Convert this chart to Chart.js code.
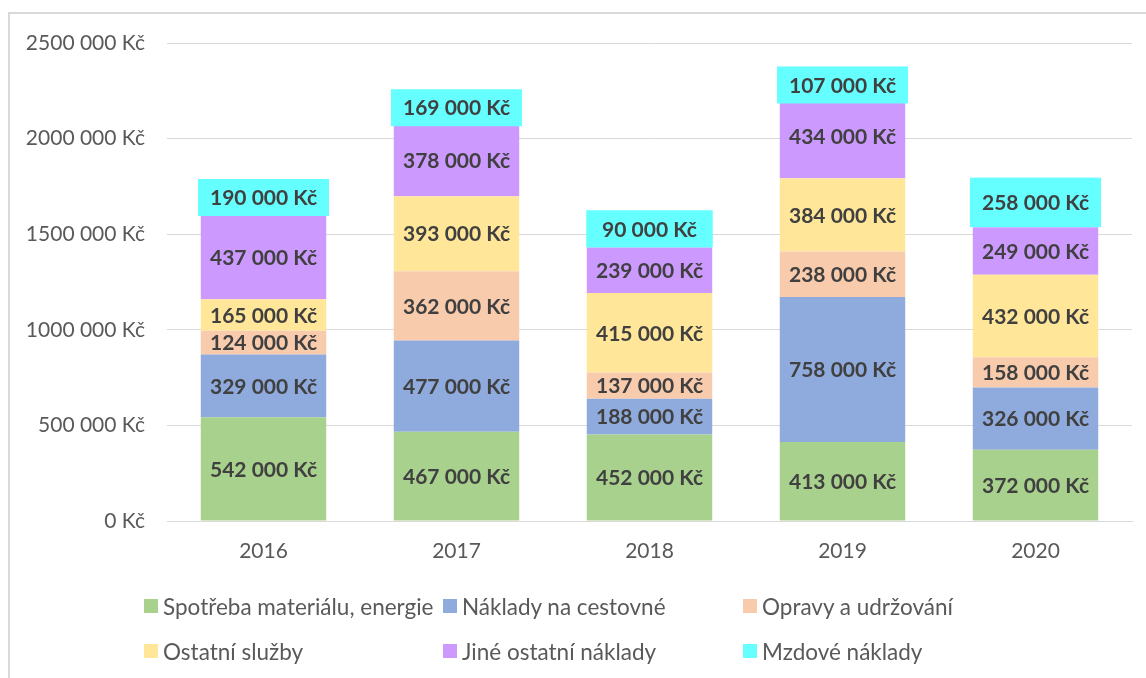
<!DOCTYPE html>
<html>
<head>
<meta charset="utf-8">
<script src="https://cdn.jsdelivr.net/npm/chart.js@4"></script>
<style>
  html, body { margin: 0; padding: 0; background: #fff; }
  body { width: 1146px; height: 678px; position: relative; overflow: hidden; font-family: Lato, sans-serif; }
  #frame { position: absolute; left: 8px; top: 12px; width: 1200px; height: 800px; border-left: 2px solid #D9D9D9; border-top: 2px solid #D9D9D9; }
  #chart { position: absolute; left: 0; top: 0; }
  #legend { position: absolute; left: 144px; top: 593px; display: grid; grid-template-columns: 299px 300px 300px; row-gap: 19px; }
  .item { display: flex; align-items: center; height: 26px; font-size: 22.5px; color: #595959; white-space: nowrap; }
  .sw { width: 14px; height: 14px; margin-right: 5px; flex: none; }
</style>
</head>
<body>
<div id="frame"></div>
<canvas id="chart" width="1146" height="678"></canvas>
<div id="legend"></div>
<script>
// ─── DATA ─────────────────────────────────────
const years = ['2016', '2017', '2018', '2019', '2020'];
const spotreba = [542000, 467000, 452000, 413000, 372000];
const cestovne = [329000, 477000, 188000, 758000, 326000];
const opravy   = [124000, 362000, 137000, 238000, 158000];
const sluzby   = [165000, 393000, 415000, 384000, 432000];
const jine     = [437000, 378000, 239000, 434000, 249000];
const mzdove   = [190000, 169000, 90000, 107000, 258000];
const yTickLabels = ['0 Kč', '500 000 Kč', '1000 000 Kč', '1500 000 Kč', '2000 000 Kč', '2500 000 Kč'];

const seriesNames = ['Spotřeba materiálu, energie', 'Náklady na cestovné', 'Opravy a udržování', 'Ostatní služby', 'Jiné ostatní náklady', 'Mzdové náklady'];
const seriesData = [spotreba, cestovne, opravy, sluzby, jine, mzdove];
const seriesColors = ['#A9D18E', '#8FAADC', '#F8CBAD', '#FFE699', '#CC99FF', '#66FFFF'];

const fmt = v => Math.round(v / 1000) + ' 000 Kč';

// ─── DATA LABELS ──────────────────────────────
const barLabels = {
    id: 'barLabels',
    afterDatasetsDraw(chart) {
        const ctx = chart.ctx;
        ctx.save();
        ctx.font = 'bold 21px Lato';
        ctx.textAlign = 'center';
        ctx.textBaseline = 'middle';
        const last = seriesData.length - 1;
        chart.data.datasets.forEach((ds, di) => {
            chart.getDatasetMeta(di).data.forEach((bar, i) => {
                const top = Math.min(bar.y, bar.base);
                const bottom = Math.max(bar.y, bar.base);
                let cy = (top + bottom) / 2;
                const text = fmt(ds.data[i]);
                if (di === last) {
                    // top series gets a filled box behind its label,
                    // pushed up if it would run into the label below
                    const h = Math.max(bottom - top, 37);
                    const below = chart.getDatasetMeta(di - 1).data[i];
                    const belowCy = (below.y + below.base) / 2;
                    let boxBottom = Math.min(cy + h / 2, belowCy - 23);
                    cy = boxBottom - h / 2;
                    const w = Math.max(bar.width + 1, ctx.measureText(text).width + 24);
                    ctx.fillStyle = ds.backgroundColor;
                    ctx.fillRect(bar.x - w / 2, cy - h / 2, w, h);
                }
                ctx.fillStyle = '#404040';
                ctx.fillText(text, bar.x, cy + 1);
            });
        });
        ctx.restore();
    }
};

// ─── CHART ────────────────────────────────────
new Chart(document.getElementById('chart'), {
    type: 'bar',
    data: {
        labels: years,
        datasets: seriesData.map((d, i) => ({
            label: seriesNames[i],
            data: d,
            backgroundColor: seriesColors[i],
            borderWidth: 0,
            categoryPercentage: 0.65,
            barPercentage: 1,
        })),
    },
    options: {
        responsive: false,
        animation: false,
        layout: { padding: { left: 0, right: 14, top: 43, bottom: 100 } },
        plugins: { legend: { display: false }, tooltip: { enabled: false } },
        scales: {
            x: {
                stacked: true,
                grid: { display: false, drawTicks: false },
                border: { color: '#D9D9D9', width: 1 },
                ticks: { color: '#595959', font: { family: 'Lato', size: 21 }, padding: 18 },
                afterFit: s => { s.height = 57; },
            },
            y: {
                stacked: true,
                min: 0, max: 2500000,
                grid: { color: '#D9D9D9', lineWidth: 1, drawTicks: false },
                border: { display: false },
                ticks: {
                    stepSize: 500000,
                    color: '#595959',
                    font: { family: 'Lato', size: 21 },
                    padding: 22,
                    callback: (v, i) => yTickLabels[i],
                },
                afterFit: s => { s.width = 167; },
            },
        },
    },
    plugins: [barLabels],
});

// ─── LEGEND ───────────────────────────────────
document.getElementById('legend').innerHTML = seriesNames.map((n, i) =>
    `<div class="item"><span class="sw" style="background:${seriesColors[i]}"></span>${n}</div>`).join('');
</script>
</body>
</html>
